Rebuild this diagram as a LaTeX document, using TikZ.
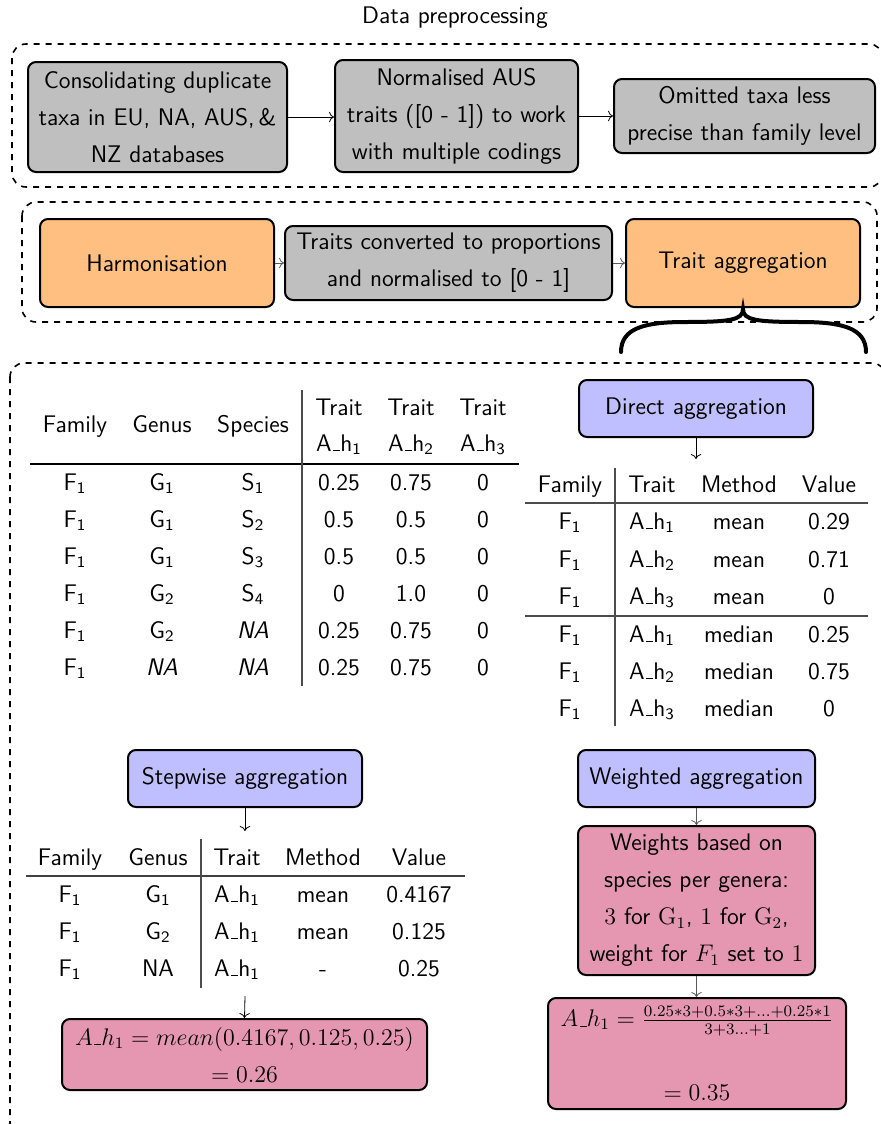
\documentclass[tikz,border=0pt]{standalone}
\renewcommand{\familydefault}{\sfdefault}
\usetikzlibrary{arrows.meta}
\definecolor{boxgray}{HTML}{BFBFBF}
\definecolor{boxorange}{HTML}{FFBF80}
\definecolor{boxblue}{HTML}{BFBFFF}
\definecolor{boxpink}{HTML}{E597B2}
\newcommand{\myus}{\leavevmode\kern.06em\vbox{\hrule width.3em}}
\newcommand{\tsb}[2]{#1\textsubscript{#2}}
\newcommand{\Ahh}[1]{A\myus h\textsubscript{#1}}
\newcommand{\mAh}{A\mbox{\myus}h_1}
\tikzset{
  box/.style={draw=black, line width=1pt, rounded corners=4pt, align=center,
    inner sep=0pt, font=\fontsize{12}{18.5}\selectfont},
  graybox/.style={box, fill=boxgray},
  orangebox/.style={box, fill=boxorange},
  bluebox/.style={box, fill=boxblue},
  pinkbox/.style={box, fill=boxpink},
  frame/.style={draw=black, dashed, line width=0.8pt, rounded corners=7pt},
  link/.style={->, line width=0.4pt},
  glink/.style={->, line width=0.4pt, draw=black!65},
  cell/.style={anchor=base, inner sep=0pt},
  hrule/.style={line width=0.6pt},
  vrule/.style={line width=0.6pt, draw=black!70},
}
\begin{document}
\begin{tikzpicture}[x=0.5pt,y=-0.5pt, font=\fontsize{12}{14.4}\selectfont]
\useasboundingbox (0,0) rectangle (880,1124);

% ---------- frames ----------
\draw[frame] (12,44) rectangle (883,187);
\draw[frame] (22,202) rectangle (877,322);
\draw[frame] (10,363) rectangle (886,1140);

\node (title) at (455,18) {Data preprocessing};

% ---------- preprocessing row ----------
\node[graybox, minimum width=129.5pt, minimum height=55pt] (cons) at (157.5,117)
  {Consolidating duplicate\\taxa in EU, NA, AUS,\,\&\\NZ databases};
\node[graybox, minimum width=121.5pt, minimum height=56pt] (norm) at (456.5,116)
  {Normalised AUS\\traits ([0 - 1]) to work\\with multiple codings};
\node[graybox, minimum width=130.5pt, minimum height=37pt] (omit) at (744.5,116)
  {Omitted taxa less\\precise than family level};
\draw[link] (cons.east) -- (cons.east -| norm.west);
\draw[link] (norm.east) -- (norm.east -| omit.west);

% ---------- harmonisation row ----------
\node[orangebox, minimum width=117pt, minimum height=44pt] (harm) at (157,263) {Harmonisation};
\node[graybox, minimum width=163.5pt, minimum height=37pt] (conv) at (448.5,263)
  {Traits converted to proportions\\and normalised to [0 - 1]};
\node[orangebox, minimum width=117pt, minimum height=44pt] (agg) at (743,263) {Trait aggregation};
\draw[glink] (harm.east) -- (conv.west);
\draw[glink] (conv.east) -- (agg.west);

% brace
\draw[line width=2pt, line cap=round]
  (621,352) .. controls (621,328) and (645,322) .. (685,322)
  .. controls (730,322) and (743,320) .. (743,309)
  .. controls (743,320) and (756,322) .. (801,322)
  .. controls (842,322) and (866,328) .. (866,352);

% ---------- main table ----------
\node[cell] (h-fam) at (75,432) {Family};
\node[cell] (h-gen) at (162,432) {Genus};
\node[cell] (h-spe) at (253,432) {Species};
\foreach \x/\k in {339/1,411/2,483/3}{
  \node[cell] (h-t\k) at (\x,415) {Trait};
  \node[cell] (h-a\k) at (\x,451) {\Ahh{\k}};
}
\draw[hrule] (30,464) -- (519,464);
\draw[vrule] (302,390) -- (302,686);
\foreach \f/\g/\s/\a/\b/\d [count=\r] in {
  \tsb F1/\tsb G1/\tsb S1/0.25/0.75/0,
  \tsb F1/\tsb G1/\tsb S2/0.5/0.5/0,
  \tsb F1/\tsb G1/\tsb S3/0.5/0.5/0,
  \tsb F1/\tsb G2/\tsb S4/0/1.0/0,
  \tsb F1/\tsb G2/\textit{NA}/0.25/0.75/0,
  \tsb F1/\textit{NA}/\textit{NA}/0.25/0.75/0}{
  \pgfmathsetmacro\yy{453+37*\r}
  \node[cell] (m-\r-1) at (75,\yy) {\f};
  \node[cell] (m-\r-2) at (162,\yy) {\g};
  \node[cell] (m-\r-3) at (253,\yy) {\s};
  \node[cell] (m-\r-4) at (339,\yy) {\a};
  \node[cell] (m-\r-5) at (411,\yy) {\b};
  \node[cell] (m-\r-6) at (483,\yy) {\d};
}

% ---------- direct aggregation ----------
\node[bluebox, minimum width=117pt, minimum height=28.5pt] (direct) at (696,408.5) {Direct aggregation};
\coordinate (dend) at (696,459);
\draw[link] (direct.south) -- (dend);
\node[cell] (d-h1) at (570,492) {Family};
\node[cell] (d-h2) at (652,492) {Trait};
\node[cell] (d-h3) at (739,492) {Method};
\node[cell] (d-h4) at (829,492) {Value};
\draw[vrule] (615,468) -- (615,726);
\draw[vrule] (525,503) -- (868,503);
\draw[vrule] (525,616) -- (868,616);
\foreach \t/\m/\v/\yy [count=\r] in {
  1/mean/0.29/529, 2/mean/0.71/567, 3/mean/0/604,
  1/median/0.25/642, 2/median/0.75/679, 3/median/0/716}{
  \node[cell] (d-\r-1) at (570,\yy) {\tsb F1};
  \node[cell] (d-\r-2) at (652,\yy) {\Ahh{\t}};
  \node[cell] (d-\r-3) at (739,\yy) {\m};
  \node[cell] (d-\r-4) at (829,\yy) {\v};
}

% ---------- stepwise aggregation ----------
\node[bluebox, minimum width=117pt, minimum height=28.5pt] (step) at (245,778.5) {Stepwise aggregation};
\coordinate (send) at (245,831);
\draw[link] (step.south) -- (send);
\node[cell] (s-h1) at (70,865) {Family};
\node[cell] (s-h2) at (158,865) {Genus};
\node[cell] (s-h3) at (237,865) {Trait};
\node[cell] (s-h4) at (323,865) {Method};
\node[cell] (s-h5) at (419,865) {Value};
\draw[hrule, draw=black!75] (26,876) -- (465,876);
\draw[vrule] (201,839) -- (201,988);
\foreach \g/\m/\v/\yy [count=\r] in {
  \tsb G1/mean/0.4167/902, \tsb G2/mean/0.125/939, NA/-/0.25/976}{
  \node[cell] (s-\r-1) at (70,\yy) {\tsb F1};
  \node[cell] (s-\r-2) at (158,\yy) {\g};
  \node[cell] (s-\r-3) at (237,\yy) {\Ahh{1}};
  \node[cell] (s-\r-4) at (323,\yy) {\m};
  \node[cell] (s-\r-5) at (419,\yy) {\v};
}
\coordinate (sstart) at (245,996);
\node[pinkbox, minimum width=182.5pt, minimum height=35.5pt] (sform) at (244.5,1054.5)
  {$\mAh = mean(0.4167, 0.125, 0.25)$\\$= 0.26$};
\draw[link] (sstart) -- (sform.north);

% ---------- weighted aggregation ----------
\node[bluebox, minimum width=118.5pt, minimum height=28.5pt] (weighted) at (696.5,778.5) {Weighted aggregation};
\node[pinkbox, minimum width=118.5pt, minimum height=74.5pt] (weights) at (696.5,900.5)
  {Weights based on\\species per genera:\\$3$ for $\mathrm{G}_1$, $1$ for $\mathrm{G}_2$,\\weight for $F_1$ set to $1$};
\node[pinkbox, minimum width=149pt, minimum height=55.5pt] (wform) at (697,1053.5)
  {$\mAh = \frac{0.25*3+0.5*3+...+0.25*1}{3+3...+1}$\\[18.5pt]$= 0.35$};
\draw[glink] (weighted.south) -- (weights.north);
\draw[glink] (weights.south) -- (wform.north -| weights.south);
\end{tikzpicture}
\end{document}
